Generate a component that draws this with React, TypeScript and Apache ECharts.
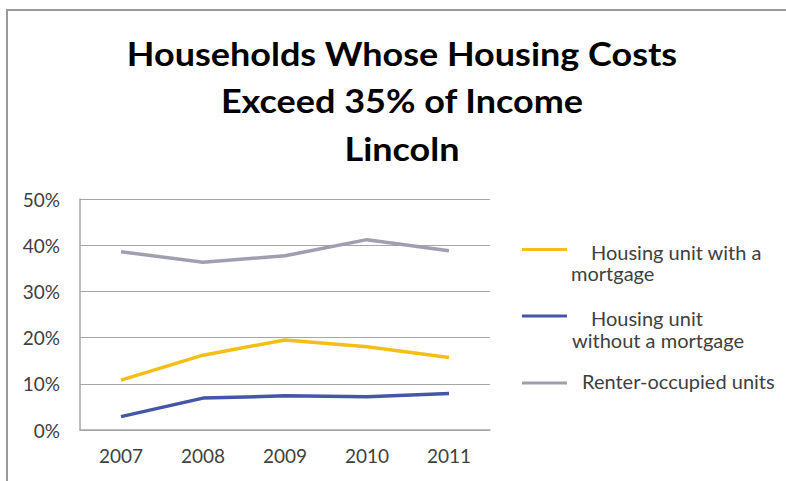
import React, { useEffect, useRef } from "react";
import * as echarts from "echarts";

const years = ["2007", "2008", "2009", "2010", "2011"];
const withMortgage = [10.8, 16.2, 19.5, 18.0, 15.7];
const withoutMortgage = [2.9, 6.9, 7.4, 7.2, 7.9];
const renterOccupied = [38.6, 36.3, 37.7, 41.2, 38.8];
const titleLines = ["Households Whose Housing Costs", "Exceed 35% of Income", "Lincoln"];
const seriesNames = ["Housing unit with a mortgage", "Housing unit without a mortgage", "Renter-occupied units"];
const legendLines = [["Housing unit with a", "mortgage"], ["Housing unit", "without a mortgage"], ["Renter-occupied units"]];
const colors = ["#F4BF14", "#4456A8", "#A09FB0"];

const FONT = "Lato, 'Open Sans', sans-serif";
const TEXT = "#404040";

export default function App() {
  const ref = useRef<HTMLDivElement>(null);
  useEffect(() => {
    document.body.style.margin = "0";
    const chart = echarts.init(ref.current!, null, { renderer: "svg" });
    const titleY = [53.5, 100.5, 148.5];
    const graphic: any[] = [];
    titleLines.forEach((t, i) => {
      graphic.push({
        type: "text",
        x: 402,
        y: titleY[i],
        scaleY: 0.89,
        style: { text: t, font: `bold 36px ${FONT}`, fill: "#000", align: "center", verticalAlign: "middle" },
      });
    });
    const symY = [249.5, 316, 383];
    const lineY = [[251.8, 273], [317.8, 340], [381]];
    const lineX = [[591, 571], [591, 572], [582]];
    legendLines.forEach((lines, i) => {
      graphic.push({
        type: "line",
        shape: { x1: 522, y1: symY[i], x2: 567, y2: symY[i] },
        style: { stroke: colors[i], lineWidth: 3 },
      });
      lines.forEach((l, j) => {
        graphic.push({
          type: "text",
          x: lineX[i][j],
          y: lineY[i][j],
          style: { text: l, font: `20px ${FONT}`, fill: TEXT, align: "left", verticalAlign: "middle" },
        });
      });
    });
    const data = [withMortgage, withoutMortgage, renterOccupied];
    chart.setOption({
      animation: false,
      grid: { left: 80, right: 296, top: 199, bottom: 51, containLabel: false },
      xAxis: {
        type: "category",
        data: years,
        boundaryGap: true,
        axisLine: { show: true, lineStyle: { color: "#A6A6A6", width: 1.5 } },
        axisTick: { show: false },
        axisLabel: { color: TEXT, fontSize: 19, fontFamily: FONT, margin: 16 },
      },
      yAxis: {
        type: "value",
        min: 0,
        max: 50,
        interval: 10,
        axisLine: { show: true, lineStyle: { color: "#A6A6A6", width: 1.5 } },
        axisTick: { show: false },
        splitLine: { lineStyle: { color: "#A6A6A6", width: 1.2 } },
        axisLabel: { color: TEXT, fontSize: 19, fontFamily: FONT, margin: 20, formatter: "{value}%" },
      },
      series: data.map((d, i) => ({
        name: seriesNames[i],
        type: "line",
        data: d,
        showSymbol: false,
        symbol: "none",
        lineStyle: { color: colors[i], width: 3.5 },
        itemStyle: { color: colors[i] },
      })),
      graphic,
    });
    return () => chart.dispose();
  }, []);
  return (
    <div style={{ position: "relative", width: 786, height: 481, overflow: "hidden", background: "#fff" }}>
      <div
        style={{
          position: "absolute",
          left: 6,
          top: 9,
          width: 800,
          height: 500,
          borderTop: "2px solid #9a9a9a",
          borderLeft: "2px solid #9a9a9a",
        }}
      />
      <div ref={ref} style={{ position: "absolute", left: 0, top: 0, width: 786, height: 481 }} />
    </div>
  );
}
